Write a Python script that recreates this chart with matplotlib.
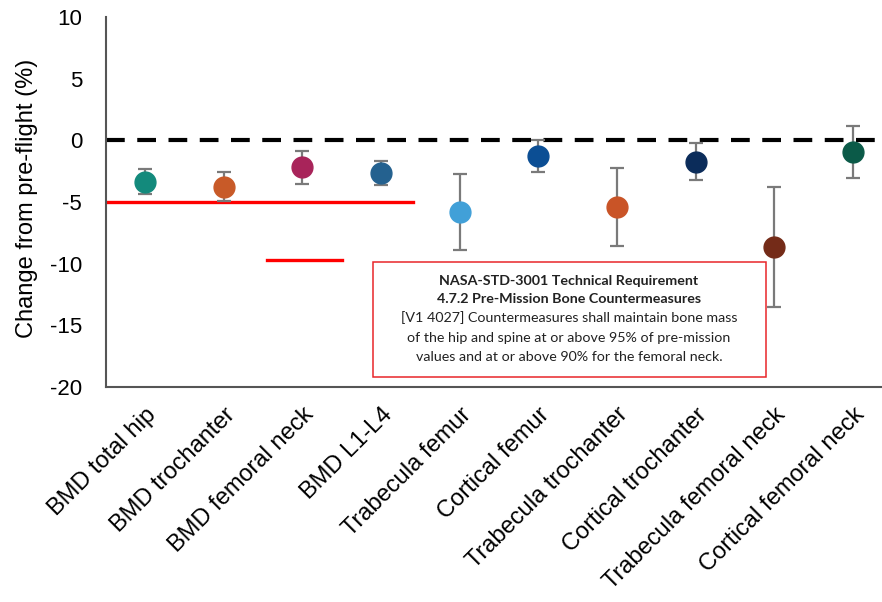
import matplotlib
matplotlib.use("Agg")
import matplotlib.pyplot as plt
from matplotlib.patches import Rectangle

sites = ["BMD total hip", "BMD trochanter", "BMD femoral neck", "BMD L1-L4",
         "Trabecula femur", "Cortical femur", "Trabecula trochanter",
         "Cortical trochanter", "Trabecula femoral neck", "Cortical femoral neck"]
change = [-3.35, -3.75, -2.2, -2.65, -5.8, -1.25, -5.4, -1.73, -8.65, -0.93]
err = [1.0, 1.2, 1.35, 1.0, 3.1, 1.3, 3.15, 1.5, 4.9, 2.1]
colors = ["#138a7c", "#c85a28", "#a8245a", "#24618f", "#41a0d8",
          "#0b4e94", "#c95427", "#0b2c5a", "#742b18", "#0b5a48"]

hip_spine_limit = -5
neck_limit = -9.7

box_lines_bold = ["NASA-STD-3001 Technical Requirement",
                  "4.7.2 Pre-Mission Bone Countermeasures"]
box_lines = ["[V1 4027] Countermeasures shall maintain bone mass",
             "of the hip and spine at or above 95% of pre-mission",
             "values and at or above 90% for the femoral neck."]

plt.rcParams['font.family'] = ['Liberation Sans', 'DejaVu Sans']
plt.rcParams['axes.unicode_minus'] = False

fig = plt.figure(figsize=(8.82, 6.02), dpi=100)
ax = fig.add_axes([0.120, 0.357, 0.88, 0.615])

x = list(range(1, len(sites) + 1))

ax.axhline(0, color="black", lw=3, dashes=(4.5, 3), zorder=1)
ax.plot([0.5, 4.4], [hip_spine_limit] * 2, color="#ff0000", lw=2.4, zorder=1)
ax.plot([2.55, 3.5], [neck_limit] * 2, color="#ff0000", lw=2.4, zorder=1)

for xi, yi, ei, c in zip(x, change, err, colors):
    ax.errorbar(xi, yi, yerr=ei, fmt="o", color=c, ms=15, mec=c,
                ecolor="#7a7a7a", elinewidth=1.6, capsize=5, capthick=1.6,
                zorder=3)

# requirement box
ax.add_patch(Rectangle((3.9, -19.2), 4.99, 9.36, facecolor="white",
                       edgecolor="#e8262a", lw=1.1, zorder=4))
ys = [-11.4, -12.85, -14.4, -16.0, -17.6]
for i, t in enumerate(box_lines_bold + box_lines):
    ax.text(6.39, ys[i], t, ha="center", va="center", fontsize=10.3,
            family=["Lato", "DejaVu Sans"],
            fontweight="bold" if i < 2 else "normal", color="#222222",
            zorder=5)

ax.set_xlim(0.5, 10.37)
ax.set_ylim(-20, 10)
ax.set_yticks([10, 5, 0, -5, -10, -15, -20])
ax.set_xticks(x)
ax.set_xticklabels(sites, rotation=45, ha="right", rotation_mode="anchor",
                   fontsize=17)
ax.tick_params(axis="y", labelsize=16, length=0, pad=17)
ax.tick_params(axis="x", length=0, pad=12)
ax.set_ylabel("Change from pre-flight (%)", fontsize=17)
ax.yaxis.set_label_coords(-0.087, 0.51)

for s in ["top", "right"]:
    ax.spines[s].set_visible(False)
for s in ["left", "bottom"]:
    ax.spines[s].set_color("#555555")
    ax.spines[s].set_linewidth(1.5)

fig.savefig("out.png", dpi=100)
